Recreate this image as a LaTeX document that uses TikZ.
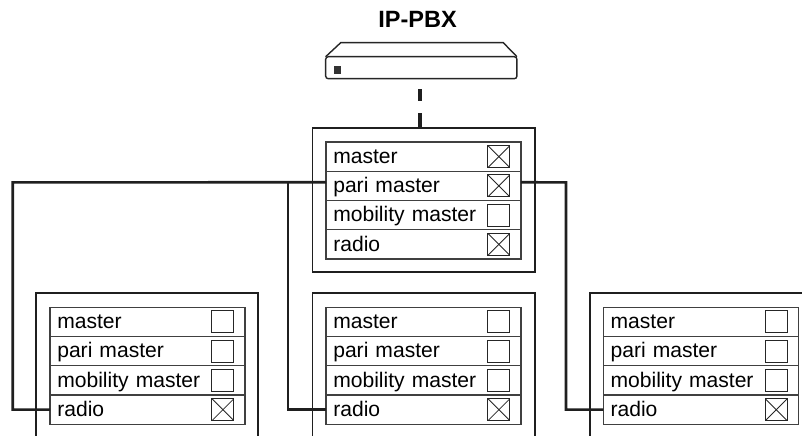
\documentclass[tikz,border=0pt]{standalone}
\usepackage{fontspec}
\setmainfont{Liberation Sans}
\usetikzlibrary{positioning}

\tikzset{
    outerbox/.style={draw=black!88, line width=1.1pt, minimum width=4.444cm, outer sep=0pt},
    rowbox/.style={draw=black!75, line width=0.8pt, anchor=north west, outer sep=0pt, inner xsep=0.146cm, inner ysep=0pt,
        text width=3.608cm, align=left, text height=0.426cm, text depth=0.159cm, font=\fontsize{12}{14}\selectfont},
    tick/.style={draw=black!85, line width=0.55pt, minimum size=0.44cm, inner sep=0pt, outer sep=0pt},
    tickx/.style={tick, path picture={
        \draw[black!85, line width=0.5pt] (path picture bounding box.north west) -- (path picture bounding box.south east);
        \draw[black!85, line width=0.5pt] (path picture bounding box.south west) -- (path picture bounding box.north east);}},
    link/.style={draw=black!88, line width=1.5pt},
}

%% one table of four rows: name, left, top, then the look of each tick box
\newcommand{\devicetable}[7]{
    \node[rowbox] (#1-master) at (#2,#3) {master};
    \node[rowbox, below=0pt of #1-master] (#1-pari) {pari master};
    \node[rowbox, below=0pt of #1-pari] (#1-mobility) {mobility master};
    \node[rowbox, below=0pt of #1-mobility] (#1-radio) {radio};
    \node[#4, xshift=-0.44cm] (#1-tick1) at (#1-master.east) {};
    \node[#5, xshift=-0.44cm] (#1-tick2) at (#1-pari.east) {};
    \node[#6, xshift=-0.44cm] (#1-tick3) at (#1-mobility.east) {};
    \node[#7, xshift=-0.44cm] (#1-tick4) at (#1-radio.east) {};
}

\begin{document}
\begin{tikzpicture}[x=0.02cm, y=-0.02cm]
    \useasboundingbox (0,0) rectangle (802,436);
    \clip (0,0) rectangle (802,436);

    %% the PBX box on top
    \node[font=\fontsize{13.4}{15}\selectfont\bfseries] (pbxlabel) at (417.5,19) {IP-PBX};
    \node[draw=black!85, line width=0.8pt, rounded corners=1.5pt, minimum width=3.826cm, minimum height=0.44cm, outer sep=0pt] (pbx) at (421.3,67.7) {};
    \draw[draw=black!85, line width=0.8pt] (pbx.north west) -- (340.7,42.7) -- (503.3,42.7) -- (pbx.north east);
    \node[fill=black!80, minimum width=0.14cm, minimum height=0.15cm, inner sep=0pt] (led) at (337.2,70) {};

    %% outer boxes, the lower ones run off the page
    \node[outerbox, minimum height=2.874cm] (main) at (423.6,199.8) {};
    \node[outerbox, minimum height=4cm] (left) at (147.2,393.3) {};
    \node[outerbox, minimum height=4cm] (middle) at (423.6,393.3) {};
    \node[outerbox, minimum height=4cm] (right) at (701.1,393.3) {};

    \devicetable{main}{326}{142}{tickx}{tickx}{tick}{tickx}
    \devicetable{left}{50}{307.3}{tick}{tick}{tick}{tickx}
    \devicetable{middle}{326}{307.3}{tick}{tick}{tick}{tickx}
    \devicetable{right}{603.3}{307.3}{tick}{tick}{tick}{tickx}

    %% connectors
    \coordinate (pbxdrop) at (419.6,128);
    \coordinate (pbxfoot) at (pbxdrop |- pbx.south);
    \draw[draw=black!88, line width=2.2pt, dash pattern=on 0.3cm off 0.25cm on 0.24cm off 0.3cm] (pbxdrop) -- (pbxfoot);
    \coordinate (tapleft) at ([yshift=0.072cm]main-pari.west);
    \coordinate (tapright) at ([yshift=0.072cm]main-pari.east);
    \draw[link] (tapleft) -- (12.7,182.4) |- (left-radio.west);
    \draw[link] (tapleft -| 288,0) |- (middle-radio.west);
    \draw[link] (tapright) -- (566,182.4) |- (right-radio.west);
\end{tikzpicture}
\end{document}
